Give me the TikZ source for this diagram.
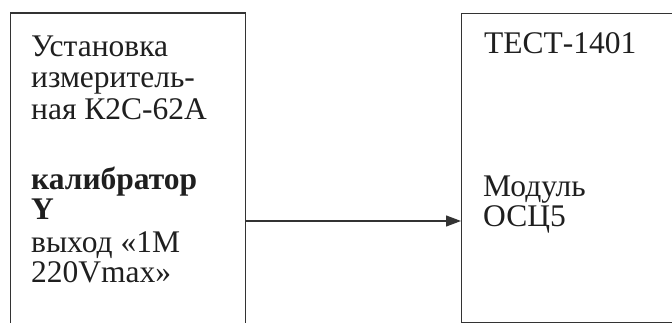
\documentclass[tikz,border=0pt]{standalone}
\usepackage{fontspec}
\setmainfont{Liberation Serif}
\usetikzlibrary{arrows.meta}
\tikzset{
  boxframe/.style={draw=black!80, line width=1.4pt, rectangle, inner sep=0pt},
  txt/.style={inner sep=0pt, anchor=base west, text=black!88,
    font=\fontsize{31.5pt}{32pt}\selectfont},
  link/.style={draw=black!80, line width=1.2pt, -{Triangle[length=15pt,width=11pt]}}
}
\begin{document}
\begin{tikzpicture}[x=1pt,y=-1pt]
\clip (0,0) rectangle (672,323);
\fill[white] (0,0) rectangle (672,323);
% boxes
\node[boxframe, anchor=north west, minimum width=235pt, minimum height=316pt] (src) at (10,12.5) {};
\node[boxframe, anchor=north west, minimum width=211pt, minimum height=308.5pt] (dst) at (461,13) {};
% texts, left box
\node[txt] (l1) at (31,56.7) {Установка};
\node[txt] (l2) at (31,88) {измеритель-};
\node[txt] (l3) at (31,120) {ная К2С-62А};
\node[txt] (l4) at (31,190) {\textbf{калибратор}};
\node[txt] (l5) at (31,220) {\textbf{Y}};
\node[txt] (l6) at (31,252) {выход «1М};
\node[txt] (l7) at (31,282) {220Vmax»};
% texts, right box
\node[txt] (r1) at (484,54) {ТЕСТ-1401};
\node[txt] (r2) at (483,196.5) {Модуль};
\node[txt] (r3) at (483,226.5) {ОСЦ5};
% connector
\coordinate (mid) at (0,221);
\draw[link] (src.east |- mid) -- (dst.west |- mid);
\end{tikzpicture}
\end{document}
